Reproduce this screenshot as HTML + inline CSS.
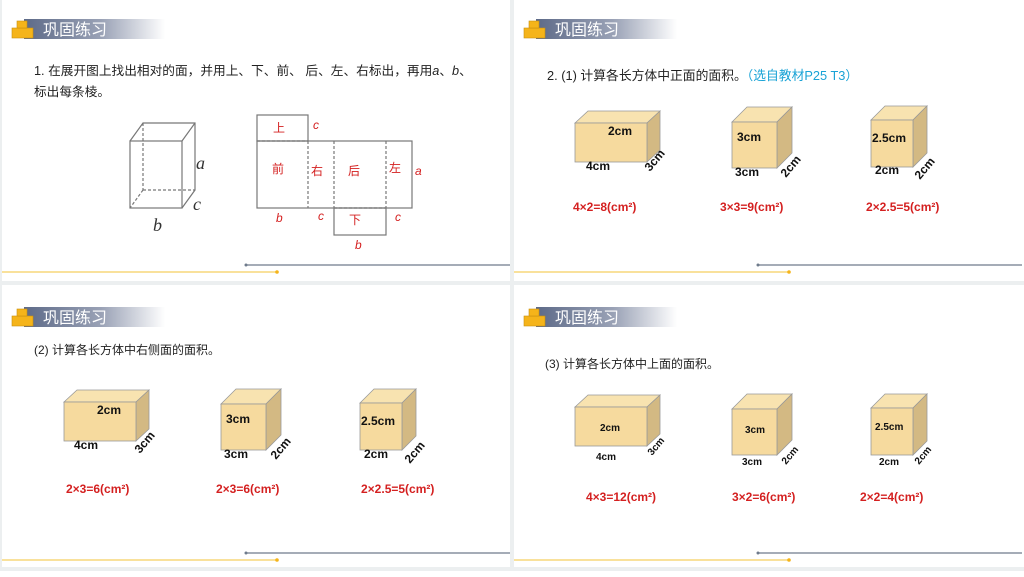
<!DOCTYPE html><html><head><meta charset="utf-8"><style>html,body{margin:0;padding:0;background:#eceff0;}svg{display:block}</style></head><body>
<svg width="1024" height="577" xmlns="http://www.w3.org/2000/svg" font-family="Liberation Sans, Noto Sans CJK SC, sans-serif">
<defs>
<linearGradient id="g" x1="0" x2="1"><stop offset="0" stop-color="#5d6a88"/><stop offset="0.55" stop-color="#9aa2b6"/><stop offset="1" stop-color="#ffffff"/></linearGradient>
<g id="hdr">
<rect x="24" y="19" width="141" height="20" fill="url(#g)"/>
<rect x="12" y="28" width="21" height="10" fill="#f5b41a" stroke="#c98f10" stroke-width="0.6"/>
<rect x="17" y="21" width="10" height="7" fill="#f5b41a" stroke="#c98f10" stroke-width="0.6"/>
<text x="43" y="35" font-size="16" fill="#fff">巩固练习</text>
</g>
<g id="lines">
<line x1="246" y1="265" x2="510" y2="265" stroke="#6f7b8c" stroke-width="1.2"/>
<circle cx="246" cy="265" r="1.5" fill="#6f7b8c"/>
<line x1="2" y1="272" x2="277" y2="272" stroke="#f7d77a" stroke-width="1.5"/>
<circle cx="277" cy="272" r="1.8" fill="#f5b41a"/>
</g>
</defs>
<rect x="2" y="0" width="508" height="281" fill="#fff"/>
<rect x="514" y="0" width="510" height="281" fill="#fff"/>
<rect x="2" y="285" width="508" height="282" fill="#fff"/>
<rect x="514" y="285" width="510" height="282" fill="#fff"/>
<rect x="0" y="571" width="1024" height="6" fill="#fff"/>
<use href="#hdr"/><use href="#hdr" x="512"/><use href="#hdr" y="288"/><use href="#hdr" x="512" y="288"/>
<use href="#lines"/><use href="#lines" x="512"/><use href="#lines" y="288"/><use href="#lines" x="512" y="288"/>

<!-- Panel 1 -->
<text x="34" y="75" font-size="12.7" fill="#222">1. 在展开图上找出相对的面，并用上、下、前、 后、左、右标出，再用<tspan font-style="italic">a</tspan>、<tspan font-style="italic">b</tspan>、</text>
<text x="34" y="96" font-size="12.7" fill="#222">标出每条棱。</text>
<g stroke="#777" stroke-width="1.2" fill="none">
<rect x="130" y="141" width="52" height="67"/>
<polyline points="130,141 143,123 195,123 195,190 182,208"/>
<line x1="182" y1="141" x2="195" y2="123"/>
<g stroke-dasharray="3,2"><line x1="143" y1="123" x2="143" y2="190"/><line x1="143" y1="190" x2="195" y2="190"/><line x1="143" y1="190" x2="130" y2="208"/></g>
<rect x="257" y="115" width="51" height="26"/>
<rect x="257" y="141" width="155" height="67"/>
<rect x="334" y="208" width="52" height="27"/>
<g stroke-dasharray="3,2"><line x1="257" y1="141" x2="308" y2="141"/><line x1="308" y1="141" x2="308" y2="208"/><line x1="334" y1="141" x2="334" y2="208"/><line x1="386" y1="141" x2="386" y2="208"/><line x1="334" y1="208" x2="386" y2="208"/></g>
</g>
<g font-family="Liberation Serif, serif" font-style="italic" font-size="18" fill="#333">
<text x="196" y="169">a</text><text x="193" y="210">c</text><text x="153" y="231">b</text></g>
<g fill="#d42020" font-size="12">
<text x="273" y="132">上</text><text x="272" y="173">前</text><text x="311" y="175">右</text><text x="348" y="175">后</text><text x="389" y="172">左</text><text x="349" y="224">下</text>
<g font-style="italic"><text x="313" y="129">c</text><text x="415" y="175">a</text><text x="276" y="222">b</text><text x="318" y="220">c</text><text x="395" y="221">c</text><text x="355" y="249">b</text></g></g>

<defs>
<g id="c1"><polygon points="575,123 588,111 660,111 647,123" fill="#f8e3b0" stroke="#999" stroke-width="0.8"/><polygon points="647,123 660,111 660,150 647,162" fill="#d3b983" stroke="#999" stroke-width="0.8"/><rect x="575" y="123" width="72" height="39" fill="#f6da9e" stroke="#999" stroke-width="0.8"/></g>
<g id="c2"><polygon points="732,122 747,107 792,107 777,122" fill="#f8e3b0" stroke="#999" stroke-width="0.8"/><polygon points="777,122 792,107 792,153 777,168" fill="#d3b983" stroke="#999" stroke-width="0.8"/><rect x="732" y="122" width="45" height="46" fill="#f6da9e" stroke="#999" stroke-width="0.8"/></g>
<g id="c3"><polygon points="871,120 885,106 927,106 913,120" fill="#f8e3b0" stroke="#999" stroke-width="0.8"/><polygon points="913,120 927,106 927,153 913,167" fill="#d3b983" stroke="#999" stroke-width="0.8"/><rect x="871" y="120" width="42" height="47" fill="#f6da9e" stroke="#999" stroke-width="0.8"/></g>
</defs>

<!-- Panel 2 -->
<text x="547" y="80" font-size="12.8" fill="#222">2. (1) 计算各长方体中正面的面积。<tspan fill="#1aa3d6">（选自教材P25  T3）</tspan></text>
<use href="#c1"/><use href="#c2"/><use href="#c3"/>
<g font-size="12" font-weight="bold" fill="#111">
<text x="608" y="135">2cm</text><text x="586" y="170">4cm</text><text x="650" y="172" transform="rotate(-50 650 172)">3cm</text>
<text x="737" y="141">3cm</text><text x="735" y="176">3cm</text><text x="786" y="178" transform="rotate(-50 786 178)">2cm</text>
<text x="872" y="142">2.5cm</text><text x="875" y="174">2cm</text><text x="920" y="180" transform="rotate(-50 920 180)">2cm</text></g>
<g font-size="12" font-weight="bold" fill="#d42020">
<text x="573" y="211">4×2=8(cm²)</text><text x="720" y="211">3×3=9(cm²)</text><text x="866" y="211">2×2.5=5(cm²)</text></g>

<!-- Panel 3 -->
<text x="34" y="354" font-size="12" fill="#222">(2)  计算各长方体中右侧面的面积。</text>
<use href="#c1" transform="translate(-511,279)"/><use href="#c2" transform="translate(-511,282)"/><use href="#c3" transform="translate(-511,283)"/>
<g font-size="12" font-weight="bold" fill="#111">
<text x="97" y="414">2cm</text><text x="74" y="449">4cm</text><text x="140" y="454" transform="rotate(-50 140 454)">3cm</text>
<text x="226" y="423">3cm</text><text x="224" y="458">3cm</text><text x="276" y="460" transform="rotate(-50 276 460)">2cm</text>
<text x="361" y="425">2.5cm</text><text x="364" y="458">2cm</text><text x="410" y="464" transform="rotate(-50 410 464)">2cm</text></g>
<g font-size="12" font-weight="bold" fill="#d42020">
<text x="66" y="493">2×3=6(cm²)</text><text x="216" y="493">2×3=6(cm²)</text><text x="361" y="493">2×2.5=5(cm²)</text></g>

<!-- Panel 4 -->
<text x="545" y="368" font-size="12" fill="#222">(3) 计算各长方体中上面的面积。</text>
<use href="#c1" transform="translate(0,284)"/><use href="#c2" transform="translate(0,287)"/><use href="#c3" transform="translate(0,288)"/>
<g font-size="10" font-weight="bold" fill="#111">
<text x="600" y="431">2cm</text><text x="596" y="460">4cm</text><text x="652" y="456" transform="rotate(-50 652 456)">3cm</text>
<text x="745" y="433">3cm</text><text x="742" y="465">3cm</text><text x="786" y="465" transform="rotate(-50 786 465)">2cm</text>
<text x="875" y="430">2.5cm</text><text x="879" y="465">2cm</text><text x="919" y="465" transform="rotate(-50 919 465)">2cm</text></g>
<g font-size="12" font-weight="bold" fill="#d42020">
<text x="586" y="501">4×3=12(cm²)</text><text x="732" y="501">3×2=6(cm²)</text><text x="860" y="501">2×2=4(cm²)</text></g>
</svg>
</body></html>
